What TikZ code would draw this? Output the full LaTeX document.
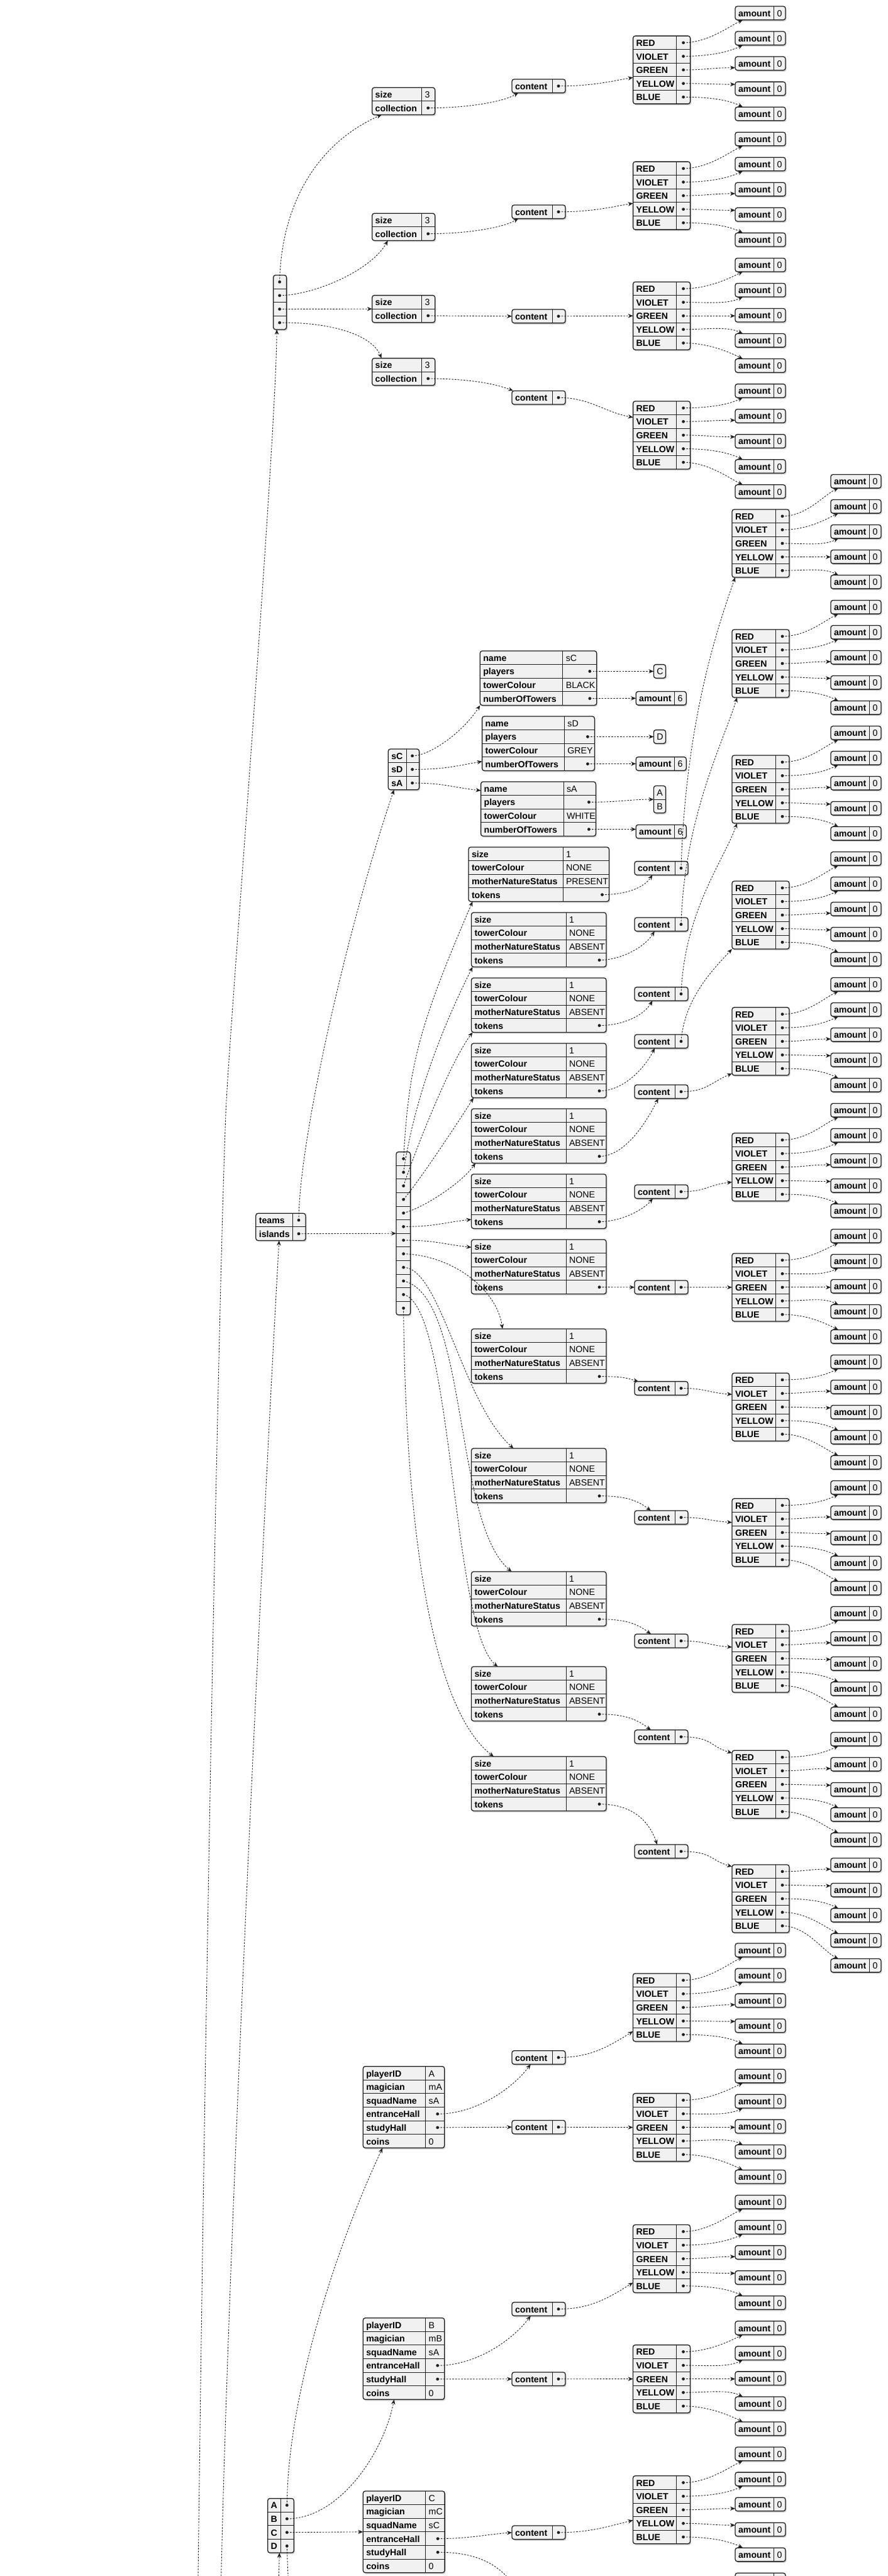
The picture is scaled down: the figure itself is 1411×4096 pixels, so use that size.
\documentclass[tikz,border=0pt]{standalone}
\usepackage{fontspec}
\setmainfont{Liberation Sans}
\usetikzlibrary{arrows.meta,calc}

\definecolor{cellfill}{HTML}{F1F1F1}
\definecolor{edgeink}{HTML}{1E1E1E}

\def\rowh{21.6}
\def\starmark{*}

\tikzset{
  keytext/.style={font=\fontsize{14.2}{16}\selectfont\bfseries, inner sep=0pt, outer sep=0pt, text=black},
  valtext/.style={font=\fontsize{14.2}{16}\selectfont, inner sep=0pt, outer sep=0pt, text=black},
  conn/.style={draw=edgeink, line width=0.9pt, dash pattern=on 2.6pt off 2.1pt,
               -{Stealth[length=8pt,width=6.5pt,inset=2.6pt]}},
  boxframe/.style={draw=edgeink, fill=cellfill, line width=1.3pt, rounded corners=3.5pt,
                   inner sep=0pt, outer sep=0pt, anchor=north west},
  cellrule/.style={draw=edgeink, line width=0.9pt},
}

% A record box: name, left x, top y, key column width, value column width, rows, key/value list.
% A value written as * is a reference dot; coordinate <name>-<row> marks it.
\newcommand{\tbl}[7]{%
  \pgfmathsetmacro\tblw{#4+#5}%
  \pgfmathsetmacro\tblh{#6*\rowh}%
  \fill[black!18, rounded corners=3.5pt] (#2+1.5,#3+2.2) rectangle ++(\tblw,\tblh);
  \node[boxframe, minimum width=\tblw pt, minimum height=\tblh pt] (#1) at (#2,#3) {};
  \ifdim #4pt>0pt \draw[cellrule] (#2+#4,#3) -- ++(0,\tblh);\fi
  \foreach \kkey/\vval [count=\ii] in {#7}{%
    \pgfmathsetmacro\rowc{#3+(\ii-0.5)*\rowh}%
    \ifnum\ii>1 \draw[cellrule] (#2,#3+\ii*\rowh-\rowh) -- ++(\tblw,0);\fi
    \node[keytext, anchor=base west] (#1-k\ii) at (#2+5,\rowc+5.5) {\kkey};
    \coordinate (#1-\ii) at (#2+\tblw-11,\rowc);
    \edef\tmpv{\vval}%
    \ifx\tmpv\starmark
      \fill[edgeink] (#1-\ii) circle (2.4);
    \else
      \node[valtext, anchor=base west] (#1-v\ii) at (#2+#4+5,\rowc+5.5) {\vval};
    \fi
  }%
}
\newcommand{\amt}[4]{\tbl{#1}{#2}{#3}{61.5}{18.5}{1}{amount/#4}}
\newcommand{\colmap}[3]{\tbl{#1}{#2}{#3}{69}{22}{5}{RED/*,VIOLET/*,GREEN/*,YELLOW/*,BLUE/*}}
\newcommand{\cont}[3]{\tbl{#1}{#2}{#3}{64}{21}{1}{content/*}}

% Edge from a dot (row y given) to an amount box (top y given)
\newcommand{\rowto}[4]{%
  \pgfmathsetmacro\rdy{#2-(#4)}%
  \pgfmathsetmacro\rhi{\rowh+3}%
  \ifdim\rdy pt<-3pt
    \draw[conn] (#1) .. controls +(38,0) and +(-24,-12) .. ($(#3.north west)+(12,0)$);%
  \else
    \ifdim\rdy pt>\rhi pt
      \draw[conn] (#1) .. controls +(38,0) and +(-24,12) .. ($(#3.south west)+(12,0)$);%
    \else
      \pgfmathsetmacro\clampv{min(max(\rdy,4),\rowh-4)}%
      \draw[conn] (#1) .. controls +(38,0) and +(-38,0) .. ($(#3.north west)+(0,\clampv)$);%
    \fi
  \fi
}
% Five colour rows of a map to their amount boxes
\newcommand{\fanout}[6]{%
  \foreach \rr in {1,...,5}{%
    \pgfmathtruncatemacro\kidx{#4+\rr-1}%
    \pgfmathsetmacro\rowy{#2+(\rr-0.5)*\rowh}%
    \pgfmathsetmacro\amtop{#5+#6*\kidx}%
    \rowto{#1-\rr}{\rowy}{#3\kidx}{\amtop}%
  }%
}

\begin{document}
\begin{tikzpicture}[x=1pt,y=-1pt]
\useasboundingbox (0,0) rectangle (1411,4096);
\fill[white] (0,0) rectangle (1411,4096);
\clip (0,0) rectangle (1411,4096);

% ---------------- clouds ----------------
\tbl{clouds}{434.6}{437.5}{0}{21}{4}{/*,/*,/*,/*}
\foreach \q/\ys/\yc/\ym in {1/139.3/126/57.1, 2/339.3/326/257.1, 3/469.6/492/448.2, 4/569.6/621.4/637.9}{%
  \tbl{sc\q}{591.7}{\ys}{79}{21}{2}{size/3,collection/*}
  \cont{cc\q}{814}{\yc}
  \colmap{cm\q}{1006.6}{\ym}
}
\foreach \q in {0,...,19}{\pgfmathsetmacro\amty{10+40.04*\q}\amt{ca\q}{1169}{\amty}{0}}

% ---------------- board: teams and islands ----------------
\tbl{board}{406.8}{1929.3}{58.5}{20.7}{2}{teams/*,islands/*}
\tbl{teams}{617.3}{1191}{29}{20.3}{3}{sC/*,sD/*,sA/*}
\tbl{tmC}{763.3}{1035}{131.5}{54}{4}{name/sC,players/*,towerColour/BLACK,numberOfTowers/*}
\tbl{tmD}{766.6}{1139}{130.8}{48}{4}{name/sD,players/*,towerColour/GREY,numberOfTowers/*}
\tbl{tmA}{764.6}{1243}{131.4}{51.4}{4}{name/sA,players/*,towerColour/WHITE,numberOfTowers/*}
\tbl{plC}{1039.4}{1056.6}{0}{19.1}{1}{/C}
\tbl{plD}{1039.4}{1160.6}{0}{19.1}{1}{/D}
\tbl{plAB}{1039.4}{1249.5}{0}{19.1}{2}{/A,/B}
\amt{twC}{1011.2}{1099.5}{6}
\amt{twD}{1011.2}{1203.6}{6}
\amt{twA}{1011.2}{1311.4}{6}

\tbl{isl}{630}{1831.6}{0}{22.6}{12}{/*,/*,/*,/*,/*,/*,/*,/*,/*,/*,/*,/*}
\tbl{is1}{745}{1347}{150}{73.5}{4}{size/1,towerColour/NONE,motherNatureStatus/PRESENT,tokens/*}
\foreach \q/\yi in {2/1451,3/1555,4/1659,5/1763,6/1867,7/1971,8/2113,9/2303,10/2499,11/2650,12/2793}{%
  \tbl{is\q}{749.5}{\yi}{150.5}{64}{4}{size/1,towerColour/NONE,motherNatureStatus/ABSENT,tokens/*}
}
\foreach \q/\yc/\ym in {1/1369.6/810, 2/1459/1001, 3/1569.6/1201, 4/1645/1401, 5/1725/1601.8,
    6/1884/1801.8, 7/2036/1992.9, 8/2196.6/2183.2, 9/2402/2382.8, 10/2598.3/2583,
    11/2750.8/2783.3, 12/2933/2965}{%
  \cont{tk\q}{1009}{\yc}
  \colmap{tm\q}{1164}{\ym}
}
\foreach \q in {0,...,59}{\pgfmathsetmacro\amty{754.5+40*\q}\amt{ta\q}{1321}{\amty}{0}}

% ---------------- players ----------------
\tbl{pl}{425.7}{3972.6}{20.3}{21.3}{4}{A/*,B/*,C/*,D/*}
\tbl{pA}{577.3}{3285.7}{99.4}{30}{6}{playerID/A,magician/mA,squadName/sA,entranceHall/*,studyHall/*,coins/0}
\tbl{pB}{577.3}{3685.7}{99.4}{30}{6}{playerID/B,magician/mB,squadName/sA,entranceHall/*,studyHall/*,coins/0}
\tbl{pC}{577.3}{3961}{99.4}{30.4}{6}{playerID/C,magician/mC,squadName/sC,entranceHall/*,studyHall/*,coins/0}
\cont{hA1}{814}{3260.7}
\cont{hA2}{814}{3371.4}
\cont{hB1}{814}{3660.7}
\cont{hB2}{814}{3771.9}
\cont{hC1}{814}{4016}
\colmap{gA1}{1006.5}{3137.9}
\colmap{gA2}{1006.5}{3328.6}
\colmap{gB1}{1006.5}{3537.5}
\colmap{gB2}{1006.5}{3728.6}
\colmap{gC1}{1006.5}{3936.7}
\foreach \q in {0,...,24}{\pgfmathsetmacro\amty{3090+40.05*\q}\amt{ha\q}{1169}{\amty}{0}}
% only the top edge of the next amount box falls inside the page
\tbl{ha25}{1169}{4091.25}{61.5}{18.5}{1}{/}

% ================= connectors =================
% clouds
\coordinate (rootA) at (315,4096);
\draw[conn] (rootA) .. controls (330,2900) and (352,1900) .. (360,1750)
            .. controls (368,1600) and (439,700) .. ($(clouds.south)+(-5,0)$);
\draw[conn] (clouds-1) .. controls (447,330) and (500,230) .. ($(sc1.south west)+(15,0)$);
\draw[conn] (clouds-2) .. controls (500,469.3) and (590,430) .. ($(sc2.south west)+(25,0)$);
\draw[conn] (clouds-3) -- (sc3.west);
\draw[conn] (clouds-4) .. controls (520,512) and (590,530) .. ($(sc4.north west)+(15,0)$);
\foreach \q in {1,2}{\draw[conn] (sc\q-2) .. controls +(60,0) and +(-25,15) .. ($(cc\q.south west)+(10,0)$);}
\draw[conn] (sc3-2) -- (cc3.west);
\draw[conn] (sc4-2) .. controls +(60,0) and +(-30,-12) .. ($(cc4.north west)+(2,0)$);
\foreach \q in {1,2}{\draw[conn] (cc\q-1) .. controls +(50,0) and +(-45,8) .. ($(cm\q.north west)+(0,66.1)$);}
\draw[conn] (cc3-1) -- (cm3.west);
\draw[conn] (cc4-1) .. controls +(50,0) and +(-45,-8) .. ($(cm4.north west)+(0,25.7)$);
\fanout{cm1}{57.1}{ca}{0}{10}{40.04}
\fanout{cm2}{257.1}{ca}{5}{10}{40.04}
\fanout{cm3}{448.2}{ca}{10}{10}{40.04}
\fanout{cm4}{637.9}{ca}{15}{10}{40.04}

% board
\coordinate (rootB) at (351.7,4096);
\draw[conn] (rootB) .. controls (365,3500) and (425,2300) .. ($(board.south west)+(37,0)$);
\draw[conn] (board-1) .. controls (476,1800) and (560,1450) .. ($(teams.south west)+(9.2,0)$);
\draw[conn] (board-2) -- (isl.west);
\draw[conn] (teams-1) .. controls +(30,0) and +(-25,40) .. (tmC.south west);
\draw[conn] (teams-2) .. controls +(50,0) and +(-45,8) .. ($(tmD.north west)+(0,71.7)$);
\draw[conn] (teams-3) .. controls +(50,0) and +(-45,-5) .. ($(tmA.north west)+(0,14)$);
\draw[conn] (tmC-2) -- (plC.west);
\draw[conn] (tmC-4) -- (twC.west);
\draw[conn] (tmD-2) -- (plD.west);
\draw[conn] (tmD-4) -- (twD.west);
\draw[conn] (tmA-2) .. controls +(50,0) and +(-40,0) .. (plAB.west);
\draw[conn] (tmA-4) -- ($(twA.north west)+(0,7.2)$);

% island list
\draw[conn] (isl-1) .. controls (650,1700) and (662,1640) .. ($(is1.south west)+(6.5,0)$);
\draw[conn] (isl-2) .. controls (655,1770) and (690,1660) .. ($(is2.south west)+(2,0)$);
\draw[conn] (isl-3) .. controls (660,1830) and (715,1690) .. ($(is3.south west)+(2,0)$);
\draw[conn] (isl-4) .. controls (665,1880) and (725,1790) .. ($(is4.south west)+(3.5,0)$);
\draw[conn] (isl-5) .. controls (675,1920) and (735,1880) .. ($(is5.south west)+(6.5,0)$);
\draw[conn] (isl-6) .. controls +(50,0) and +(-45,5) .. ($(is6.north west)+(0,72)$);
\draw[conn] (isl-7) .. controls +(50,0) and +(-45,-5) .. ($(is7.north west)+(0,12.3)$);
\draw[conn] (isl-8) .. controls (720,1996) and (790,2050) .. ($(is8.north west)+(49.5,0)$);
\draw[conn] (isl-9) .. controls (700,2015) and (735,2230) .. ($(is9.north west)+(67,0)$);
\draw[conn] (isl-10) .. controls (745,2060) and (720,2420) .. ($(is10.north west)+(64,0)$);
\draw[conn] (isl-11) .. controls (720,2075) and (718,2590) .. ($(is11.north west)+(42,0)$);
\draw[conn] (isl-12) .. controls (645,2450) and (690,2720) .. ($(is12.north west)+(35.5,0)$);

% island tokens to their content
\draw[conn] (is1-4) .. controls +(35,0) and +(-15,22) .. ($(tk1.south west)+(28.5,0)$);
\draw[conn] (is2-4) .. controls +(35,0) and +(-15,25) .. ($(tk2.south west)+(31.8,0)$);
\draw[conn] (is3-4) .. controls +(35,0) and +(-15,25) .. ($(tk3.south west)+(28.5,0)$);
\draw[conn] (is4-4) .. controls +(40,0) and +(-15,30) .. ($(tk4.south west)+(32,0)$);
\draw[conn] (is5-4) .. controls +(40,0) and +(-20,40) .. ($(tk5.south west)+(37.7,0)$);
\draw[conn] (is6-4) .. controls +(35,0) and +(-15,18) .. ($(tk6.south west)+(29,0)$);
\draw[conn] (is7-4) -- (tk7.west);
\draw[conn] (is8-4) .. controls +(35,0) and +(-20,-6) .. ($(tk8.north west)+(6,0)$);
\draw[conn] (is9-4) .. controls +(45,0) and +(-20,-15) .. ($(tk9.north west)+(26,0)$);
\draw[conn] (is10-4) .. controls +(45,0) and +(-20,-15) .. ($(tk10.north west)+(26,0)$);
\draw[conn] (is11-4) .. controls +(45,0) and +(-20,-15) .. ($(tk11.north west)+(26,0)$);
\draw[conn] (is12-4) .. controls +(55,0) and +(-12,-35) .. ($(tk12.north west)+(36,0)$);

% content to colour maps
\draw[conn] (tk1-1) .. controls (1090,1150) and (1140,1000) .. ($(tm1.south west)+(5,0)$);
\draw[conn] (tk2-1) .. controls (1088,1300) and (1150,1180) .. ($(tm2.south west)+(8,0)$);
\draw[conn] (tk3-1) .. controls (1088,1450) and (1150,1370) .. ($(tm3.south west)+(8,0)$);
\draw[conn] (tk4-1) .. controls (1088,1590) and (1130,1545) .. (tm4.south west);
\draw[conn] (tk5-1) .. controls +(40,0) and +(-35,15) .. ($(tm5.north west)+(0,105)$);
\draw[conn] (tk6-1) .. controls +(40,0) and +(-40,5) .. ($(tm6.north west)+(0,77.7)$);
\draw[conn] (tk7-1) -- (tm7.west);
\draw[conn] (tk8-1) .. controls +(40,0) and +(-40,-3) .. ($(tm8.north west)+(0,34)$);
\draw[conn] (tk9-1) .. controls +(40,0) and +(-40,-3) .. ($(tm9.north west)+(0,38)$);
\draw[conn] (tk10-1) .. controls +(40,0) and +(-40,-3) .. ($(tm10.north west)+(0,36)$);
\draw[conn] (tk11-1) .. controls +(50,0) and +(-35,-10) .. ($(tm11.north west)+(0,4)$);
\draw[conn] (tk12-1) .. controls +(50,0) and +(-35,-10) .. ($(tm12.north west)+(0,3)$);
\foreach \q/\ym in {1/810, 2/1001, 3/1201, 4/1401, 5/1601.8, 6/1801.8, 7/1992.9, 8/2183.2,
    9/2382.8, 10/2583, 11/2783.3, 12/2965}{%
  \pgfmathtruncatemacro\first{5*\q-5}%
  \fanout{tm\q}{\ym}{ta}{\first}{754.5}{40}
}

% players
\coordinate (rootC) at (443.3,4096);
\draw[conn] (rootC) -- ($(pl.south west)+(18.6,0)$);
\coordinate (offD) at (459,4130);
\draw[conn] (pl-4) .. controls (457,4080) and (458.5,4100) .. (offD);
\draw[conn] (pl-1) .. controls (458,3800) and (540,3560) .. ($(pA.south west)+(31,0)$);
\draw[conn] (pl-2) .. controls (540,4005) and (610,3900) .. ($(pB.south west)+(49.4,0)$);
\draw[conn] (pl-3) -- (pC.west);
\foreach \pp in {A,B}{%
  \draw[conn] (p\pp-4) .. controls +(60,0) and +(-30,40) .. ($(h\pp1.south west)+(29.8,0)$);
  \draw[conn] (p\pp-5) -- (h\pp2.west);
  \draw[conn] (h\pp1-1) .. controls +(50,0) and +(-40,25) .. ($(g\pp1.north west)+(0,92)$);
  \draw[conn] (h\pp2-1) -- (g\pp2.west);
}
\draw[conn] (pC-4) .. controls +(50,0) and +(-40,3) .. (hC1.west);
\draw[conn] (hC1-1) .. controls +(50,0) and +(-40,10) .. ($(gC1.north west)+(0,70.6)$);
\coordinate (offS) at (832,4135);
\draw[conn] (pC-5) .. controls (770,4058) and (805,4085) .. (offS);
\fanout{gA1}{3137.9}{ha}{0}{3090}{40.05}
\fanout{gA2}{3328.6}{ha}{5}{3090}{40.05}
\fanout{gB1}{3537.5}{ha}{10}{3090}{40.05}
\fanout{gB2}{3728.6}{ha}{15}{3090}{40.05}
\fanout{gC1}{3936.7}{ha}{20}{3090}{40.05}
\end{tikzpicture}
\end{document}
